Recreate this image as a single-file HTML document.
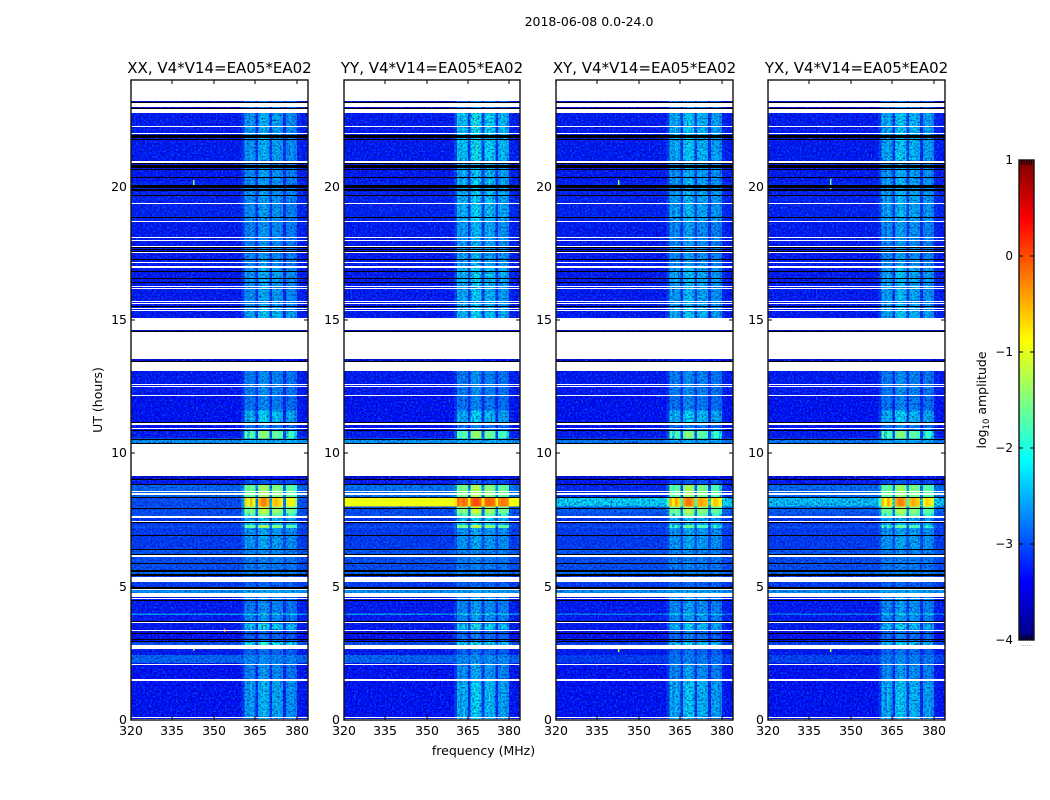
<!DOCTYPE html>
<html>
<head>
<meta charset="utf-8">
<title>2018-06-08 spectrogram</title>
<style>
html,body{margin:0;padding:0;background:#fff;}
svg{display:block;font-family:"DejaVu Sans","Liberation Sans",sans-serif;fill:#000;}
</style>
</head>
<body>
<svg id="chart" xmlns="http://www.w3.org/2000/svg" width="1050" height="800" viewBox="0 0 1050 800">
<defs>
<filter id="speckleLight" x="0" y="0" width="100%" height="100%" color-interpolation-filters="sRGB">
<feTurbulence type="fractalNoise" baseFrequency="0.55" numOctaves="1" seed="3"/>
<feColorMatrix type="matrix" values="0 0 0 0 0  0 0 0 0 0.55  0 0 0 0 1  1.7 0 0 0 -0.72"/>
</filter>
<filter id="speckleDark" x="0" y="0" width="100%" height="100%" color-interpolation-filters="sRGB">
<feTurbulence type="fractalNoise" baseFrequency="0.55" numOctaves="1" seed="11"/>
<feColorMatrix type="matrix" values="0 0 0 0 0  0 0 0 0 0  0 0 0 0 0.5  1.9 0 0 0 -0.82"/>
</filter>
</defs>
<text x="589" y="26" font-size="12.5" text-anchor="middle">2018-06-08 0.0-24.0</text>
<text x="483.500" y="755" font-size="12.5" text-anchor="middle">frequency (MHz)</text>
<text transform="translate(102,400) rotate(-90)" font-size="12.5" text-anchor="middle">UT (hours)</text>
<text transform="translate(986,400) rotate(-90)" font-size="12.5" text-anchor="middle">log<tspan font-size="8.5" dy="3">10</tspan><tspan dy="-3"> amplitude</tspan></text>
<g id="layer"></g>
</svg>
<script>
/* Frequency channels, 1 MHz each, starting at 320 MHz */
var channelStart = 320;
var channelWidth = 1;
/* Relative strength of the band in each channel */
var channelShape = [0,0,0,0,0,0,0,0,0,0,0,0,0,0,0,0,0,0,0,0,
0,0,0,0,0,0,0,0,0,0,0,0,0,0,0,0,0,0,0,0,
.2,.85,.7,.9,.75,.15,.9,1,1,.9,.2,.85,.9,.85,.8,.12,.7,.8,.75,.65,.05,.03,0,0];
/* Start hour of each time segment */
var rowStart = [0,1.5,2.14,2.44,2.8,2.95,3.4,3.6,3.93,4.0,4.7,4.9,5.4,5.6,6.1,6.4,7.2,7.32,7.6,7.75,8.0,8.32,8.82,9.0,10.35,10.55,10.87,11.17,11.6,12.15,13.2,15.05,15.4,16.4,17.0,18.7,20.2,21.0,22.8];
/* Background log10 amplitude per segment, one array per polarisation */
var bgXX = [-3.35,-3.35,-2.85,-3.3,-3.0,-3.4,-3.3,-3.3,-2.5,-3.3,-2.6,-3.1,-2.8,-3.0,-2.95,-3.1,-3.0,-3.15,-3.0,-3.0,-3.0,-2.85,-3.3,-3.6,-2.55,-3.3,-3.35,-3.35,-3.35,-3.3,-3.6,-3.3,-3.3,-3.3,-3.3,-3.25,-3.3,-3.3,-3.5];
var bgYY = [-3.35,-3.35,-2.85,-3.3,-3.0,-3.4,-3.3,-3.3,-2.5,-3.3,-2.6,-3.1,-2.8,-3.0,-2.95,-3.1,-3.0,-3.15,-3.0,-3.0,-0.95,-2.75,-3.3,-3.6,-2.55,-3.3,-3.35,-3.35,-3.35,-3.3,-3.6,-3.3,-3.3,-3.3,-3.3,-3.25,-3.3,-3.3,-3.5];
var bgXY = [-3.35,-3.35,-3.1,-3.3,-3.1,-3.4,-3.3,-3.3,-2.7,-3.3,-2.6,-3.1,-2.8,-3.0,-2.95,-3.1,-3.0,-3.15,-3.0,-2.9,-2.2,-3.2,-3.3,-3.6,-2.75,-3.3,-3.35,-3.35,-3.35,-3.3,-3.6,-3.3,-3.3,-3.3,-3.3,-3.25,-3.3,-3.3,-3.5];
var bgYX = [-3.35,-3.35,-3.05,-3.3,-3.1,-3.4,-3.3,-3.3,-2.7,-3.3,-2.6,-3.1,-2.8,-3.0,-2.95,-3.1,-3.0,-3.15,-3.0,-2.9,-2.3,-2.8,-3.3,-3.6,-2.75,-3.3,-3.35,-3.35,-3.35,-3.3,-3.6,-3.3,-3.3,-3.3,-3.3,-3.25,-3.3,-3.3,-3.5];
/* Peak band log10 amplitude per segment, one array per polarisation */
var bandXX = [-2.3,-2.5,-2.6,-2.75,-1.9,-2.75,-2.0,-2.5,-1.95,-2.55,-2.4,-2.8,-2.6,-2.65,-2.6,-2.4,-1.3,-2.2,-1.5,-1.15,-0.25,-1.3,-2.9,-3.3,-2.4,-1.4,-2.6,-2.15,-2.6,-2.55,-3.3,-2.2,-2.4,-2.35,-2.5,-2.45,-2.45,-2.35,-2.6];
var bandYY = [-2.15,-2.4,-2.55,-2.75,-2.0,-2.65,-1.95,-2.45,-1.95,-2.45,-2.4,-2.8,-2.6,-2.65,-2.6,-2.4,-1.2,-2.1,-1.5,-1.1,-0.0,-1.25,-2.9,-3.3,-2.4,-1.35,-2.6,-2.15,-2.6,-2.55,-3.3,-2.1,-2.2,-2.1,-2.3,-2.15,-2.2,-2.0,-2.6];
var bandXY = [-2.2,-2.45,-2.65,-2.75,-2.1,-2.65,-2.1,-2.45,-1.95,-2.45,-2.4,-2.8,-2.6,-2.65,-2.6,-2.4,-1.6,-2.3,-1.5,-1.25,-0.2,-1.3,-2.9,-3.3,-2.4,-1.45,-2.6,-2.15,-2.6,-2.55,-3.3,-2.2,-2.3,-2.25,-2.45,-2.3,-2.35,-2.2,-2.6];
var bandYX = [-2.2,-2.45,-2.6,-2.75,-2.1,-2.65,-2.1,-2.45,-1.95,-2.45,-2.4,-2.8,-2.6,-2.65,-2.6,-2.4,-1.6,-2.3,-1.5,-1.25,-0.25,-1.35,-2.9,-3.3,-2.4,-1.45,-2.6,-2.15,-2.6,-2.55,-3.3,-2.2,-2.3,-2.25,-2.45,-2.3,-2.35,-2.2,-2.6];
/* Flagged (blank) time ranges, hours */
var blankLow  = [23.21,22.99,22.77,22.24,21.98,20.9,19.35,18.67,18.07,17.96,17.74,17.63,17.52,17.13,17.0,16.94,16.23,16.15,15.69,15.6,15.42,15.34,14.63,13.53,13.1,12.57,12.5,12.15,11.06,10.92,9.15,8.54,8.45,7.59,7.43,6.13,5.18,4.89,4.6,4.54,3.66,3.36,3.01,2.67,2.07,1.46,.08,.03];
var blankHigh = [24,23.18,22.92,22.29,22.02,20.95,19.39,18.71,18.11,18.0,17.79,17.67,17.56,17.16,17.03,16.97,16.27,16.19,15.73,15.64,15.46,15.38,15.09,14.56,13.44,12.6,12.53,12.2,11.13,10.96,10.36,8.57,8.5,7.65,7.46,6.17,5.37,4.93,4.76,4.57,3.69,3.39,3.04,2.82,2.1,1.54,.11,.05];
/* Zero-amplitude (black) time lines, hours */
var zeroRows = [23.19,22.95,21.93,21.89,21.86,21.8,20.87,20.83,20.78,20.72,20.68,20.35,20.08,20.04,20.0,19.91,19.87,19.69,18.85,17.72,17.67,17.6,17.28,16.85,16.58,16.44,15.53,14.58,13.45,11.16,10.89,10.54,10.39,9.04,8.85,8.35,7.96,7.42,6.93,6.4,6.21,5.88,5.62,5.59,5.46,5.42,4.96,4.99,4.5,3.72,3.25,3.05,2.95];
/* Isolated bright interference spikes */
var spikePanel = [0,2,3,0,0,2,3];
var spikeFreq = [342.4,342.4,342.4,353.6,342.4,342.4,342.4];
var spikeLow = [19.98,20.0,19.9,3.3,2.6,2.55,2.55];
var spikeHigh = [20.25,20.25,20.3,3.42,2.68,2.68,2.68];
var spikeValue = [-1.4,-1.4,-1.6,-0.2,-1.2,-1.2,-1.2];
/* Panels */
var panelTitles = ["XX, V4*V14=EA05*EA02","YY, V4*V14=EA05*EA02","XY, V4*V14=EA05*EA02","YX, V4*V14=EA05*EA02"];
/* Axis ticks */
var freqTicks = [320,335,350,365,380];
var hourTicks = [0,5,10,15,20];
var colorTicks = [-4,-3,-2,-1,0,1];
var colorTickLabels = ["\u22124","\u22123","\u22122","\u22121","0","1"];

var bgSeries = [bgXX,bgYY,bgXY,bgYX];
var bandSeries = [bandXX,bandYY,bandXY,bandYX];
var panelLeft = [131,344,556,768];
var panelWidth = [177,176,177,177];
var plotTop = 80, plotBottom = 720;
var freqMin = 320, freqMax = 384, hourMin = 0, hourMax = 24;
var cbLeft = 1019, cbRight = 1034, cbTop = 160, cbBottom = 640, cMin = -4, cMax = 1;
var smoothAbove = -1.95;

function yHour(h){ return plotBottom - (h-hourMin)/(hourMax-hourMin)*(plotBottom-plotTop); }
function xFreq(p,f){ return panelLeft[p] + (f-freqMin)/(freqMax-freqMin)*panelWidth[p]; }
function yColor(v){ return cbBottom - (v-cMin)/(cMax-cMin)*(cbBottom-cbTop); }
function clamp01(a){ return a<0?0:(a>1?1:a); }
function jet(v){
  var t = clamp01((v-cMin)/(cMax-cMin));
  var r = clamp01(Math.min(4*t-1.5, -4*t+4.5));
  var g = clamp01(Math.min(4*t-0.5, -4*t+3.5));
  var b = clamp01(Math.min(4*t+0.5, -4*t+2.5));
  return "rgb("+Math.round(r*255)+","+Math.round(g*255)+","+Math.round(b*255)+")";
}
var NS = "http://www.w3.org/2000/svg";
var layer = document.getElementById("layer");
function make(tag, parent, attrs){
  var el = document.createElementNS(NS, tag);
  for (var k in attrs) el.setAttribute(k, attrs[k]);
  parent.appendChild(el);
  return el;
}
function tick(parent, x1, y1, x2, y2){
  var el = make("line", parent, {x1:x1,y1:y1,x2:x2,y2:y2,stroke:"#000","stroke-width":1,"shape-rendering":"crispEdges"});
  
  
}
function label(parent, x, y, anchor, size, str){
  var el = make("text", parent, {x:x,y:y,"text-anchor":anchor,"font-size":size});
  el.textContent = str;
  
  
}

panelTitles.forEach(function(title,p){
  var L = panelLeft[p], W = panelWidth[p], R = L+W;
  var g = make("g", layer, {});
  
  

  var cells = make("g", g, {"shape-rendering":"crispEdges"});
  
  
  /* fine-grain texture only: does not encode any values */
  var sl = make("rect", g, {x:L,y:plotTop,width:W,height:plotBottom-plotTop,fill:"#fff",filter:"url(#speckleLight)"});
  
  
  var sd = make("rect", g, {x:L,y:plotTop,width:W,height:plotBottom-plotTop,fill:"#000",filter:"url(#speckleDark)"});
  
  
  var brightCells = make("g", g, {"shape-rendering":"crispEdges"});
  
  

  for (var s=0; s<rowStart.length; s++){
    var end = s+1<rowStart.length ? rowStart[s+1] : hourMax;
    var yTop = yHour(end), yBot = yHour(rowStart[s]);
    for (var c=0; c<channelShape.length; c++){
      var f0 = channelStart + c*channelWidth;
      var x0 = xFreq(p,f0), x1 = xFreq(p,f0+channelWidth);
      var bg = bgSeries[p][s], band = bandSeries[p][s];
      var v = bg + (band-bg)*channelShape[c];
      var cell = make("rect", v>smoothAbove ? brightCells : cells, {x:x0.toFixed(2),y:yTop.toFixed(2),width:(x1-x0).toFixed(2),height:(yBot-yTop).toFixed(2),fill:jet(v)});
      
      
    }
  }

  for (var i=0; i<spikeFreq.length; i++){
    if (spikePanel[i]!==p) continue;
    var sy = yHour(spikeHigh[i]);
    var spike = make("rect", g, {x:xFreq(p,spikeFreq[i]).toFixed(2),y:sy.toFixed(2),width:1.5,height:(yHour(spikeLow[i])-sy).toFixed(2),fill:jet(spikeValue[i])});
    
    
  }
  for (var b=0; b<blankLow.length; b++){
    var by = Math.round(yHour(blankHigh[b]));
    var bh = Math.max(1, Math.round(yHour(blankLow[b]))-by);
    var blank = make("rect", g, {x:L,y:by,width:W,height:bh,fill:"#fff","shape-rendering":"crispEdges"});
    
    
  }
  for (var z=0; z<zeroRows.length; z++){
    var zero = make("rect", g, {x:L,y:Math.round(yHour(zeroRows[z])),width:W,height:1,fill:"#000","shape-rendering":"crispEdges"});
    
    
  }

  var frame = make("rect", g, {x:L,y:plotTop,width:W,height:plotBottom-plotTop,fill:"none",stroke:"#111","stroke-width":1.4});
  
  

  freqTicks.forEach(function(f){
    var x = Math.round(xFreq(p,f));
    tick(g, x, plotBottom, x, plotBottom-4);
    tick(g, x, plotTop, x, plotTop+4);
    label(g, x, plotBottom+15, "middle", 12.5, String(f));
  });
  hourTicks.forEach(function(h){
    var y = Math.round(yHour(h));
    tick(g, L, y, L+4, y);
    tick(g, R, y, R-4, y);
    label(g, L-4, y+4, "end", 12.5, String(h));
  });
  var t = make("text", g, {x:L+W/2,y:plotTop-7,"text-anchor":"middle","font-size":15});
  t.textContent = title;
  
  
});

/* Colour bar */
var cb = make("g", layer, {});


for (var lv=0; lv<240; lv++){
  var lo = cMin + lv/240*(cMax-cMin), hi = cMin + (lv+1)/240*(cMax-cMin);
  var seg = make("rect", cb, {x:cbLeft,y:yColor(hi),width:cbRight-cbLeft,height:yColor(lo)-yColor(hi)+0.5,fill:jet((lo+hi)/2),"shape-rendering":"crispEdges"});
  
  
}
var cbFrame = make("rect", cb, {x:cbLeft,y:cbTop,width:cbRight-cbLeft,height:cbBottom-cbTop,fill:"none",stroke:"#111","stroke-width":1.4});


colorTicks.forEach(function(v,i){
  var y = Math.round(yColor(v));
  if (v>cMin && v<cMax){
    tick(cb, cbLeft, y, cbLeft+4, y);
    tick(cb, cbRight, y, cbRight-4, y);
  }
  label(cb, cbLeft-6, y+4, "end", 12, colorTickLabels[i]);
});
[0,1,2,3,4].forEach(function(i){
  var x = cbLeft+2.5+i*2.5;
  tick(cb, x, cbTop, x, cbTop+5);
  tick(cb, x, cbBottom, x, cbBottom-5);
});
var dots = make("text", cb, {x:(cbLeft+cbRight)/2,y:646,"text-anchor":"middle","font-size":6,fill:"#777"});
dots.textContent = "......";


</script>
</body>
</html>
